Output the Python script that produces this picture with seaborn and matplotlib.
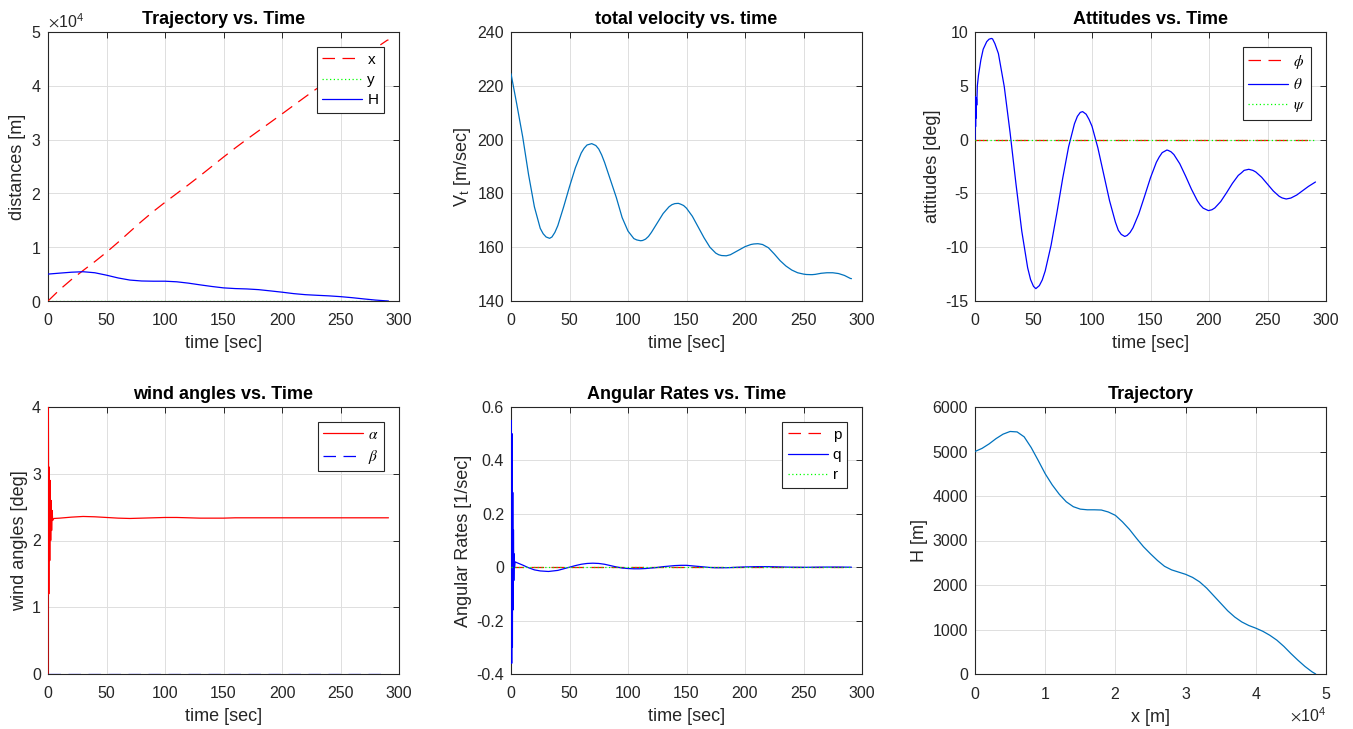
import numpy as np
import pandas as pd
import matplotlib
matplotlib.use('Agg')
import matplotlib.pyplot as plt
import seaborn as sns
from matplotlib.ticker import FuncFormatter, ScalarFormatter

# ---------------- data ----------------
# position / altitude vs time (10 s grid)
t_pos = [0, 10, 20, 30, 40, 50, 60, 70, 80, 90, 100, 110, 120, 130, 140, 150,
         160, 170, 180, 190, 200, 210, 220, 230, 240, 250, 260, 270, 280, 290, 291]
x_pos = [0, 2110, 3980, 5670, 7320, 9060, 10930, 12880, 14810, 16640, 18340,
         19970, 21600, 23280, 25010, 26750, 28440, 30060, 31630, 33190, 34770,
         36370, 37960, 39520, 41040, 42530, 44020, 45510, 47000, 48480, 48530]
H_pos = [5000, 5180, 5350, 5440, 5250, 4800, 4280, 3890, 3720, 3680, 3680,
         3570, 3320, 3000, 2700, 2440, 2310, 2240, 2110, 1880, 1640, 1370, 1175,
         1060, 955, 810, 615, 385, 170, 8, 0]

# total velocity
t_v = [0, 5, 10, 15, 20, 25, 27.5, 30, 33, 35, 37.5, 40, 45, 50, 55, 60, 62.5,
       65, 69, 72.5, 75, 77.5, 80, 85, 90, 95, 100, 105, 107.5, 110.8, 112.5,
       115, 117.5, 120, 125, 130, 135, 137.5, 140, 143, 145, 147.5, 150, 155,
       160, 165, 170, 175, 177.5, 180, 184, 187.5, 190, 195, 200, 205, 207.5,
       211, 212.5, 215, 220, 225, 230, 235, 240, 245, 250, 252.5, 256, 257.5,
       260, 265, 270, 273, 275, 280, 285, 290, 291]
v_t = [224.5, 213, 201, 187, 175, 167, 165.0, 163.8, 163.3, 163.8, 165.5, 168,
       175, 182.5, 189.5, 195, 196.8, 198, 198.5, 197.8, 196.5, 194.3, 191.5,
       185, 178.5, 171, 166, 163.2, 162.7, 162.4, 162.5, 163, 164.0, 165.5, 169,
       172.5, 175, 175.8, 176.2, 176.3, 176, 175.5, 174.5, 171.5, 167.5, 163.5,
       160, 157.8, 157.2, 156.9, 156.8, 157.2, 157.8, 159, 160.2, 161, 161.2,
       161.3, 161.2, 161, 159.8, 157.5, 155, 153, 151.5, 150.5, 150, 149.85,
       149.8, 149.8, 149.9, 150.3, 150.5, 150.5, 150.5, 150.2, 149.5, 148.4,
       148.3]

# pitch attitude theta [deg]
t_th = [0, 0.25, 0.5, 0.75, 1.0, 1.25, 1.5, 2, 3, 5, 7, 10, 12, 14, 15, 17, 20,
        25, 30, 35, 40, 45, 47.5, 50, 52, 55, 57.5, 60, 65, 70, 75, 80, 85, 87.5,
        90, 92, 95, 97.5, 100, 105, 110, 115, 120, 122.5, 125, 128, 130, 132.5,
        135, 140, 145, 150, 155, 157.5, 160, 164, 165, 167.5, 170, 175, 180, 185,
        190, 192.5, 195, 199.5, 202.5, 205, 210, 215, 220, 225, 227.5, 230, 234,
        237.5, 240, 245, 250, 255, 260, 262.5, 266, 270, 275, 280, 285, 291]
theta = [0, 4.0, 1.2, 3.9, 2.0, 3.8, 3.2, 5.0, 6.0, 7.4, 8.4, 9.1, 9.33, 9.4,
         9.36, 8.92, 8.0, 4.93, 0.64, -4.10, -8.52, -11.91, -13.01, -13.64,
         -13.85, -13.57, -13.04, -12.21, -9.83, -6.80, -3.57, -0.67, 1.47, 2.16,
         2.53, 2.6, 2.36, 1.87, 1.24, -0.76, -3.22, -5.68, -7.67, -8.43, -8.81,
         -9.0, -8.91, -8.64, -8.20, -6.90, -5.24, -3.54, -2.11, -1.61, -1.21,
         -0.97, -1.00, -1.13, -1.39, -2.24, -3.39, -4.61, -5.67, -6.08, -6.37,
         -6.6, -6.52, -6.35, -5.76, -4.94, -4.07, -3.33, -3.11, -2.86, -2.76,
         -2.86, -3.01, -3.50, -4.14, -4.78, -5.27, -5.42, -5.52, -5.43, -5.15,
         -4.75, -4.35, -3.94]

# angle of attack alpha [deg]
t_al = [0, 0.3, 0.7, 1.1, 1.5, 1.9, 2.3, 2.7, 3.1, 3.5, 4, 5, 10, 20, 30, 40, 50,
        60, 70, 80, 90, 100, 110, 120, 130, 140, 150, 160, 170, 180, 190, 200,
        210, 220, 230, 240, 250, 260, 270, 280, 291]
alpha = [0, 4.0, 1.2, 3.1, 1.7, 2.9, 2.0, 2.6, 2.15, 2.45, 2.3, 2.33, 2.335,
         2.35, 2.36, 2.355, 2.345, 2.335, 2.33, 2.335, 2.34, 2.345, 2.345, 2.34,
         2.335, 2.335, 2.335, 2.34, 2.34, 2.34, 2.34, 2.34, 2.34, 2.34, 2.34,
         2.34, 2.34, 2.34, 2.34, 2.34, 2.34]

# pitch rate q [1/sec]
t_q = [0, 0.3, 0.6, 0.9, 1.2, 1.5, 1.8, 2.1, 2.4, 2.7, 3.0, 3.5, 5, 10, 15, 20,
       25, 32, 40, 45, 50, 55, 60, 65, 70, 75, 80, 85, 90, 95, 100, 105, 110,
       115, 120, 125, 130, 135, 140, 145, 150, 155, 160, 165, 170, 175, 180, 185,
       190, 195, 200, 210, 220, 230, 240, 250, 260, 270, 280, 291]
q = [0, 0.55, -0.36, 0.5, -0.3, 0.28, -0.16, 0.14, -0.05, 0.05, 0.0, 0.02,
     0.017, 0.008, -0.002, -0.01, -0.014, -0.016, -0.012, -0.006, 0.0, 0.006,
     0.011, 0.014, 0.015, 0.014, 0.011, 0.006, 0.001, -0.003, -0.005, -0.006,
     -0.006, -0.005, -0.003, -0.001, 0.002, 0.004, 0.006, 0.007, 0.007, 0.005,
     0.003, 0.001, -0.001, -0.002, -0.002, -0.002, -0.001, 0.0, 0.001, 0.002,
     0.002, 0.001, 0.0, -0.0005, 0.0, 0.0005, 0.0005, 0.0]

# zero-valued channels (y, phi, psi, beta, p, r)
t_zero = [0, 291]
zero = [0, 0]

# trajectory H vs x
x_tr = [0, 1000, 2000, 3000, 4000, 5000, 6000, 7000, 8000, 9000, 10000, 11000,
        12000, 13000, 14000, 15000, 16000, 17000, 18000, 19000, 20000, 21000,
        22000, 23000, 24000, 25000, 26000, 27000, 28000, 29000, 30000, 31000,
        32000, 33000, 34000, 35000, 36000, 37000, 38000, 39000, 40000, 41000,
        42000, 43000, 44000, 45000, 46000, 47000, 48000, 48530]
H_tr = [5000, 5070, 5170, 5290, 5390, 5450, 5440, 5330, 5090, 4800, 4500, 4250,
        4040, 3870, 3760, 3705, 3690, 3690, 3685, 3640, 3565, 3420, 3250, 3050,
        2860, 2700, 2550, 2420, 2340, 2290, 2240, 2170, 2070, 1930, 1760, 1590,
        1420, 1280, 1170, 1090, 1030, 960, 870, 760, 620, 460, 310, 170, 50, 0]

# ---------------- style ----------------
sns.set_theme(style='white')
plt.rcParams.update({
    'font.family': ['Liberation Sans', 'DejaVu Sans'],
    'axes.unicode_minus': False,
    'mathtext.fontset': 'stix',
    'text.color': '#000000',
})

RED, BLUE, GREEN, MBLUE = '#FF0000', '#0000FF', '#00FF00', '#0072BD'
DASH = (0, (10, 6))
DOT = (0, (1, 2))
LW = 0.9
INK = '#262626'

fig = plt.figure(figsize=(13.53, 7.29), dpi=100)
W, H = 1353.0, 729.0
lefts = [48, 511, 975]
row_tops = [32, 407]
row_bots = [301, 674]
axes = []
for r in range(2):
    for c in range(3):
        l = lefts[c] / W
        b = 1 - row_bots[r] / H
        h = (row_bots[r] - row_tops[r]) / H
        axes.append(fig.add_axes([l, b, 351 / W, h]))

gfmt = FuncFormatter(lambda v, p: '%g' % round(v, 6))


def style(ax, title, xlabel, ylabel):
    ax.grid(True, color='#dedede', linewidth=0.7)
    ax.set_axisbelow(True)
    for s in ax.spines.values():
        s.set_visible(True)
        s.set_color(INK)
        s.set_linewidth(0.8)
    ax.tick_params(direction='in', top=True, right=True, length=4, width=0.7,
                   colors=INK, labelsize=11.5)
    ax.tick_params(axis='x', pad=8.5)
    ax.tick_params(axis='y', pad=5)
    ax.set_title(title, fontsize=13, fontweight='bold', color='#000000', pad=6)
    ax.set_xlabel(xlabel, fontsize=13, color=INK, labelpad=5)
    ax.set_ylabel(ylabel, fontsize=13, color=INK, labelpad=3)


def leg(ax):
    lg = ax.legend(loc='upper right', fontsize=11, frameon=True, fancybox=False,
                   edgecolor=INK, framealpha=1, borderaxespad=1.0,
                   handlelength=2.6, handletextpad=0.35, labelspacing=0.42,
                   borderpad=0.35)
    lg.get_frame().set_linewidth(0.8)
    lg.set_zorder(5)


def line(ax, x, y, color, ls='-', label=None):
    sns.lineplot(x=x, y=y, ax=ax, color=color, linewidth=LW, linestyle=ls,
                 label=label, estimator=None, sort=False, zorder=3)


# 1: Trajectory vs time
ax = axes[0]
line(ax, t_pos, x_pos, RED, DASH, 'x')
line(ax, t_zero, zero, GREEN, DOT, 'y')
line(ax, t_pos, H_pos, BLUE, '-', 'H')
ax.set_xlim(0, 300); ax.set_ylim(0, 50000)
ax.set_xticks(range(0, 301, 50)); ax.set_yticks(range(0, 50001, 10000))
sf = ScalarFormatter(useMathText=True)
sf.set_powerlimits((0, 0))
ax.yaxis.set_major_formatter(sf)
style(ax, 'Trajectory vs. Time', 'time [sec]', 'distances [m]')
ax.yaxis.get_offset_text().set_fontsize(11.5)
ax.yaxis.get_offset_text().set_color(INK)
leg(ax)

# 2: total velocity
ax = axes[1]
line(ax, t_v, v_t, MBLUE)
ax.set_xlim(0, 300); ax.set_ylim(140, 240)
ax.set_xticks(range(0, 301, 50)); ax.set_yticks(range(140, 241, 20))
style(ax, 'total velocity vs. time', 'time [sec]', r'V$_\mathregular{t}$ [m/sec]')

# 3: attitudes
ax = axes[2]
line(ax, t_zero, zero, RED, DASH, r'$\phi$')
line(ax, t_th, theta, BLUE, '-', r'$\theta$')
line(ax, t_zero, zero, GREEN, DOT, r'$\psi$')
ax.set_xlim(0, 300); ax.set_ylim(-15, 10)
ax.set_xticks(range(0, 301, 50)); ax.set_yticks(range(-15, 11, 5))
style(ax, 'Attitudes vs. Time', 'time [sec]', 'attitudes [deg]')
leg(ax)

# 4: wind angles
ax = axes[3]
line(ax, t_al, alpha, RED, '-', r'$\alpha$')
line(ax, t_zero, zero, BLUE, DASH, r'$\beta$')
ax.set_xlim(0, 300); ax.set_ylim(0, 4)
ax.set_xticks(range(0, 301, 50)); ax.set_yticks(range(0, 5, 1))
style(ax, 'wind angles vs. Time', 'time [sec]', 'wind angles [deg]')
leg(ax)

# 5: angular rates
ax = axes[4]
line(ax, t_zero, zero, RED, DASH, 'p')
line(ax, t_q, q, BLUE, '-', 'q')
line(ax, t_zero, zero, GREEN, DOT, 'r')
ax.set_xlim(0, 300); ax.set_ylim(-0.4, 0.6)
ax.set_xticks(range(0, 301, 50)); ax.set_yticks([-0.4, -0.2, 0, 0.2, 0.4, 0.6])
ax.yaxis.set_major_formatter(gfmt)
style(ax, 'Angular Rates vs. Time', 'time [sec]', 'Angular Rates [1/sec]')
leg(ax)

# 6: trajectory
ax = axes[5]
line(ax, x_tr, H_tr, MBLUE)
ax.set_xlim(0, 50000); ax.set_ylim(0, 6000)
ax.set_xticks(range(0, 50001, 10000)); ax.set_yticks(range(0, 6001, 1000))
sf2 = ScalarFormatter(useMathText=True)
sf2.set_powerlimits((0, 0))
ax.xaxis.set_major_formatter(sf2)
style(ax, 'Trajectory', 'x [m]', 'H [m]')
ax.xaxis.get_offset_text().set_fontsize(11.5)
ax.xaxis.get_offset_text().set_color(INK)

fig.savefig('out.png', dpi=100)
